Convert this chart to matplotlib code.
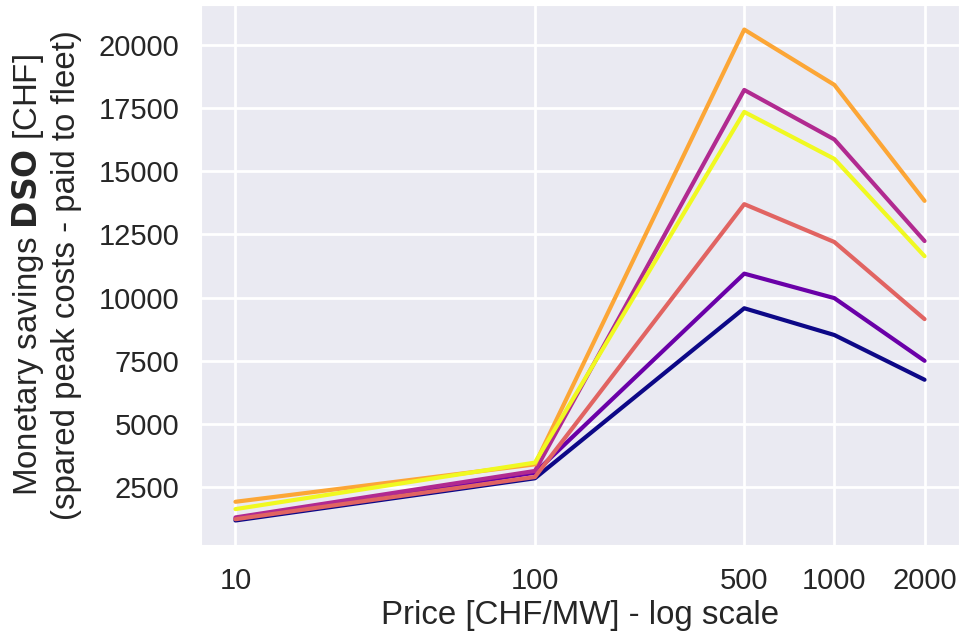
import numpy as np
import matplotlib
matplotlib.use("Agg")
import matplotlib.pyplot as plt
import matplotlib.ticker as mticker
import seaborn as sns

sns.set_style("darkgrid")
plt.rcParams['font.family'] = ['Liberation Sans', 'DejaVu Sans']

###Prices (x axis) and savings per fleet scenario
prices = [10, 100, 500, 1000, 2000]
tick_labels = ['10', '100', '500', '1000', '2000']

s_navy    = [1180, 2850, 9580, 8520, 6750]
s_purple  = [1250, 3070, 10950, 9980, 7500]
s_magenta = [1300, 3140, 18220, 16260, 12240]
s_salmon  = [1230, 2900, 13700, 12200, 9150]
s_orange  = [1920, 3400, 20610, 18420, 13830]
s_yellow  = [1630, 3470, 17350, 15490, 11640]

series = [s_navy, s_purple, s_magenta, s_salmon, s_orange, s_yellow]
colors = plt.cm.plasma(np.linspace(0, 1, len(series)))

fig = plt.figure(figsize=(9.59, 6.35), dpi=100)
ax = fig.add_axes([0.2096, 0.1417, 0.7904, 0.8504])

for vals, c in zip(series, colors):
    ax.plot(prices, vals, color=c, linewidth=3)

ax.set_xscale('log')
ax.set_xticks(prices)
ax.set_xticklabels(tick_labels)
ax.xaxis.set_minor_locator(mticker.NullLocator())
ax.set_yticks([2500, 5000, 7500, 10000, 12500, 15000, 17500, 20000])
ax.grid(True, color='white', linewidth=2)
ax.tick_params(labelsize=21, colors='#262626', pad=12)

ax.set_xlabel('Price [CHF/MW] - log scale', fontsize=23.8, color='#262626', labelpad=4)
ax.set_ylabel('Monetary savings $\\bf{DSO}$ [CHF]\n(spared peak costs - paid to fleet)',
              fontsize=23.8, color='#262626', labelpad=12)

fig.savefig('out.png', dpi=100)
